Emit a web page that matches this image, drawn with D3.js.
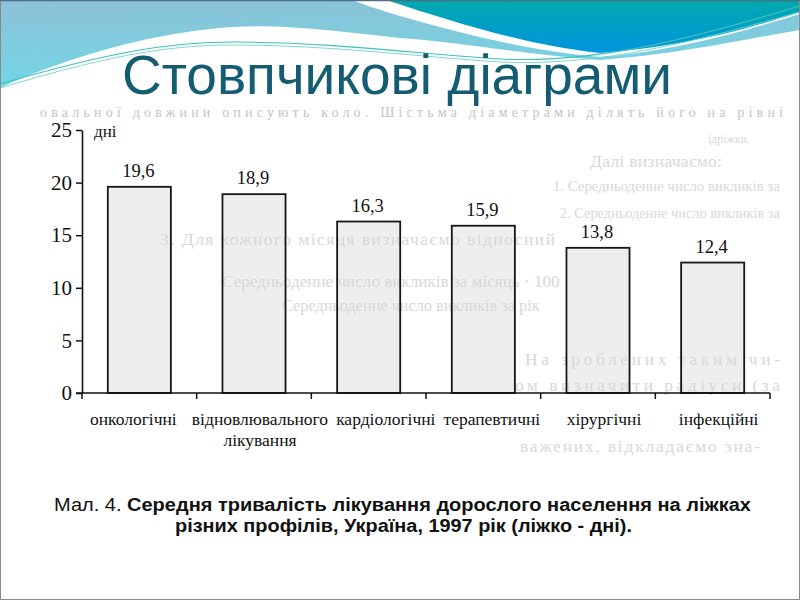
<!DOCTYPE html>
<html>
<head>
<meta charset="utf-8">
<script src="https://cdn.jsdelivr.net/npm/d3@7"></script>
<style>
  html, body { margin: 0; padding: 0; background: #ffffff; }
  svg { display: block; }
</style>
</head>
<body>
<svg id="chart" width="800" height="600"></svg>
<script>
// ---------------- data ----------------
const categories = [
  ["онкологічні"],
  ["відновлювального", "лікування"],
  ["кардіологічні"],
  ["терапевтичні"],
  ["хірургічні"],
  ["інфекційні"]
];
const values = [19.6, 18.9, 16.3, 15.9, 13.8, 12.4];
const valueLabels = ["19,6", "18,9", "16,3", "15,9", "13,8", "12,4"];
const yTicks = [0, 5, 10, 15, 20, 25];
const yUnit = "дні";
const titleText = "Стовпчикові діаграми";
const captionPrefix = "Мал. 4. ";
const captionLine1 = "Середня тривалість лікування дорослого населення на ліжках";
const captionLine2 = "різних профілів, Україна, 1997 рік (ліжко - дні).";
// faint text showing through the scanned page
const ghostLines = [
  "овальної довжини описують коло. Шістьма діаметрами ділять його на рівні",
  "ідріжки.",
  "Далі визначаємо:",
  "1. Середньоденне число викликів за",
  "2. Середньоденне число викликів за",
  "3. Для кожного місяця визначаємо відносний",
  "Середньоденне число викликів за місяць · 100",
  "Середньоденне число викликів за рік",
  "На зроблених таким чи-",
  "ом визначити радіуси (за",
  "важених, відкладаємо зна-"
];

// ---------------- drawing ----------------
const svg = d3.select("#chart");
const SERIF = "'Liberation Serif', 'DejaVu Serif', serif";
const SANS = "'Liberation Sans Narrow', 'Liberation Sans', Arial, sans-serif";

const defs = svg.append("defs");
const gLB = defs.append("linearGradient").attr("id", "lb").attr("x1", 0).attr("y1", 0).attr("x2", 0.15).attr("y2", 1);
gLB.append("stop").attr("offset", "0%").attr("stop-color", "#8dc1d6");
gLB.append("stop").attr("offset", "100%").attr("stop-color", "#72d6e6");
const gTeal = defs.append("linearGradient").attr("id", "teal").attr("x1", 0).attr("y1", 0).attr("x2", 0).attr("y2", 1);
gTeal.append("stop").attr("offset", "0%").attr("stop-color", "#00aaac");
gTeal.append("stop").attr("offset", "100%").attr("stop-color", "#0094e0");

// slide decoration
svg.append("rect").attr("width", 800).attr("height", 600).attr("fill", "#ffffff");
svg.append("path")
  .attr("d", "M0,0 H800 V30 C740,40 680,54 600,60 C520,54 460,42 400,38 C330,30 280,24 233,27 C160,32 100,50 60,64 C30,74 12,82 0,88 Z")
  .attr("fill", "url(#lb)");
svg.append("path")
  .attr("d", "M352,0 H800 V14 C740,32 680,50 600,57 C520,50 450,30 400,16 C380,10 365,5 352,0 Z")
  .attr("fill", "#ffffff");
svg.append("path")
  .attr("d", "M386,0 H800 V12 C750,28 690,46 600,53 C530,46 460,24 386,0 Z")
  .attr("fill", "url(#teal)");
svg.append("path")
  .attr("d", "M0,84 C110,52 170,42 233,42 C330,42 420,54 500,59 C600,64 700,36 800,6")
  .attr("fill", "none").attr("stroke", "#3fc2b4").attr("stroke-width", 1.1);
svg.append("path")
  .attr("d", "M0,88 C110,55 170,45 233,45 C330,45 420,57 500,62 C600,67 700,40 800,12")
  .attr("fill", "none").attr("stroke", "#6fd4c8").attr("stroke-width", 0.9);

// ghost text: font sized to its span (capped), remaining room as letter spacing
const ghostPos = [
  [40, 783, 117], [708, 750, 143], [590, 722, 167], [553, 780, 191], [560, 780, 218],
  [160, 555, 245], [222, 560, 287], [282, 540, 311], [525, 780, 365], [515, 780, 391],
  [520, 760, 452]
];
svg.append("g").selectAll("text").data(ghostLines).join("text")
  .attr("x", (d, i) => ghostPos[i][0])
  .attr("y", (d, i) => ghostPos[i][2])
  .attr("font-family", SERIF).attr("font-size", 15)
  .attr("fill", (d, i) => i === 0 ? "#c4c4c4" : "#d8d8d8")
  .text(d => d)
  .each(function (d, i) {
    const target = ghostPos[i][1] - ghostPos[i][0];
    const nat = this.getComputedTextLength();
    const fs = Math.min(i === 0 ? 14 : 17.5, 15 * target / nat);
    const sel = d3.select(this).attr("font-size", fs);
    if (this.getComputedTextLength() < target - 2) {
      sel.attr("textLength", target).attr("lengthAdjust", "spacing");
    }
  });

// title
svg.append("text")
  .attr("x", 122).attr("y", 94)
  .attr("textLength", 550).attr("lengthAdjust", "spacingAndGlyphs")
  .attr("font-family", SANS).attr("font-size", 55)
  .attr("fill", "#135c71")
  .text(titleText);

// scales
const idx = d3.range(values.length);
const x = d3.scaleBand().domain(idx).range([82, 770]).paddingInner(0.45).paddingOuter(0.225);
const y = d3.scaleLinear().domain([0, 25]).range([393, 130]);

// bars
svg.append("g").selectAll("rect").data(values).join("rect")
  .attr("x", (d, i) => x(i))
  .attr("y", d => y(d))
  .attr("width", x.bandwidth())
  .attr("height", d => y(0) - y(d))
  .attr("fill", "rgba(215,215,215,0.42)")
  .attr("stroke", "#161616").attr("stroke-width", 1.8);

// value labels
svg.append("g").selectAll("text").data(values).join("text")
  .attr("x", (d, i) => x(i) + x.bandwidth() / 2 - 1)
  .attr("y", d => y(d) - 10)
  .attr("text-anchor", "middle")
  .attr("font-family", SERIF).attr("font-size", 18.5)
  .attr("fill", "#111")
  .text((d, i) => valueLabels[i]);

// y axis
const yAxis = svg.append("g").attr("transform", "translate(82,0)")
  .call(d3.axisLeft(y).tickValues(yTicks).tickSize(6).tickSizeOuter(0).tickPadding(4));
yAxis.select(".domain").attr("stroke", "#111").attr("stroke-width", 1.6);
yAxis.selectAll(".tick line").attr("stroke", "#111").attr("stroke-width", 1.5);
yAxis.selectAll(".tick text").attr("font-family", SERIF).attr("font-size", 21).attr("fill", "#111");

// x axis line + ticks at band boundaries
const boundaries = d3.range(values.length + 1).map(i => x.range()[0] + i * x.step());
svg.append("line")
  .attr("x1", 76).attr("x2", x.range()[1]).attr("y1", y(0)).attr("y2", y(0))
  .attr("stroke", "#111").attr("stroke-width", 1.6);
svg.append("g").selectAll("line").data(boundaries).join("line")
  .attr("x1", d => d).attr("x2", d => d)
  .attr("y1", y(0)).attr("y2", y(0) + 6)
  .attr("stroke", "#111").attr("stroke-width", 1.5);

// category labels: centred under bands, pushed right when they would collide
const labG = svg.append("g");
let prevRight = -Infinity;
const gap = 8;
categories.forEach((lines, i) => {
  const nodes = lines.map((t, j) => labG.append("text")
    .attr("y", 425 + j * 21)
    .attr("text-anchor", "middle")
    .attr("font-family", SERIF).attr("font-size", 17.5)
    .attr("fill", "#111")
    .text(t));
  const w = d3.max(nodes, n => n.node().getComputedTextLength());
  let cx = x(i) + x.bandwidth() / 2 + (i === 0 ? -6 : 6);
  if (cx - w / 2 < prevRight + gap) cx = prevRight + gap + w / 2;
  prevRight = cx + w / 2;
  nodes.forEach(n => n.attr("x", cx));
});

// unit label
svg.append("text")
  .attr("x", 94).attr("y", 137)
  .attr("font-family", SERIF).attr("font-size", 17)
  .attr("fill", "#111")
  .text(yUnit);

// caption
const cap1 = svg.append("text")
  .attr("x", 54).attr("y", 511)
  .attr("textLength", 697).attr("lengthAdjust", "spacingAndGlyphs")
  .attr("font-family", SANS).attr("font-size", 17.5).attr("fill", "#111");
cap1.append("tspan").text(captionPrefix);
cap1.append("tspan").attr("font-weight", "bold").text(captionLine1);
svg.append("text")
  .attr("x", 175).attr("y", 532)
  .attr("textLength", 457).attr("lengthAdjust", "spacingAndGlyphs")
  .attr("font-family", SANS).attr("font-size", 17.5).attr("font-weight", "bold").attr("fill", "#111")
  .text(captionLine2);

// slide border
svg.append("rect").attr("x", 0.5).attr("y", 0.5).attr("width", 799).attr("height", 599)
  .attr("fill", "none").attr("stroke", "#8a8a8a").attr("stroke-width", 1);
svg.append("line").attr("x1", 0).attr("x2", 800).attr("y1", 0.5).attr("y2", 0.5)
  .attr("stroke", "#4d6f87").attr("stroke-width", 1.5);
</script>
</body>
</html>
